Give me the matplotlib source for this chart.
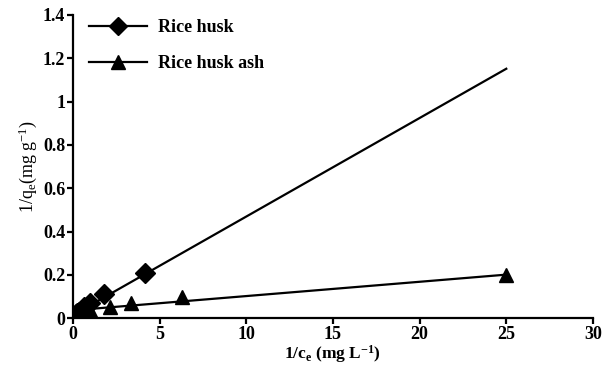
import numpy as np
import matplotlib
matplotlib.use("Agg")
import matplotlib.pyplot as plt

# Langmuir linearisation data
husk_x = [4.17, 1.79, 1.0, 0.67, 0.5, 0.33, 0.25, 0.2]
husk_y = [0.208, 0.11, 0.07, 0.05, 0.04, 0.03, 0.025, 0.02]
ash_x = [25.0, 6.3, 3.35, 2.13, 1.0, 0.5, 0.33, 0.25]
ash_y = [0.2, 0.097, 0.069, 0.05, 0.04, 0.035, 0.03, 0.028]

# fitted lines (slope, intercept) and the range they are drawn over
husk_fit = (0.0455, 0.014)
ash_fit = (0.0066, 0.036)
fit_range = (0.0, 25.0)

x_ticks = [0, 5, 10, 15, 20, 25, 30]
y_ticks = [0, 0.2, 0.4, 0.6, 0.8, 1, 1.2, 1.4]
y_tick_labels = ["0", "0.2", "0.4", "0.6", "0.8", "1", "1.2", "1.4"]

plt.rcParams["font.family"] = "Liberation Serif"
plt.rcParams["mathtext.fontset"] = "custom"
plt.rcParams["mathtext.rm"] = "Liberation Serif"
plt.rcParams["mathtext.default"] = "regular"

fig = plt.figure(figsize=(6.02, 3.73), dpi=100)
ax = fig.add_axes([0.121, 0.147, 0.864, 0.813])

xs = np.array(fit_range)
ax.plot(xs, husk_fit[0] * xs + husk_fit[1], color="black", lw=1.6, zorder=2)
ax.plot(xs, ash_fit[0] * xs + ash_fit[1], color="black", lw=1.6, zorder=2)
ax.plot(husk_x, husk_y, "D", color="black", ms=10, zorder=3)
ax.plot(ash_x, ash_y, "^", color="black", ms=10.5, zorder=3)

# legend proxies: line with marker
h1, = ax.plot([], [], "-D", color="black", lw=1.6, ms=9, label="Rice husk")
h2, = ax.plot([], [], "-^", color="black", lw=1.6, ms=9.5, label="Rice husk ash")
leg = ax.legend(handles=[h1, h2], loc="upper left", bbox_to_anchor=(0.0, 1.04),
                frameon=False, handlelength=3.2, handletextpad=0.6, labelspacing=1.07,
                prop={"family": "Liberation Serif", "weight": "bold", "size": 13})

ax.set_xlim(0, 30)
ax.set_ylim(0, 1.4)
ax.set_xticks(x_ticks)
ax.set_yticks(y_ticks)
ax.set_yticklabels(y_tick_labels)
for lab in ax.get_xticklabels() + ax.get_yticklabels():
    lab.set_fontweight("bold")
    lab.set_fontsize(13)
ax.tick_params(direction="out", length=4, width=1.6, pad=1.5)

ax.spines["top"].set_visible(False)
ax.spines["right"].set_visible(False)
ax.spines["left"].set_linewidth(1.6)
ax.spines["bottom"].set_linewidth(1.6)

ax.set_xlabel(r"1/c$_{e}$ (mg L$^{-1}$)", fontsize=12.5, fontweight="bold", labelpad=0)
ax.set_ylabel(r"1/q$_{e}$(mg g$^{-1}$)", fontsize=13, labelpad=3)

fig.savefig("out.png", dpi=100)
